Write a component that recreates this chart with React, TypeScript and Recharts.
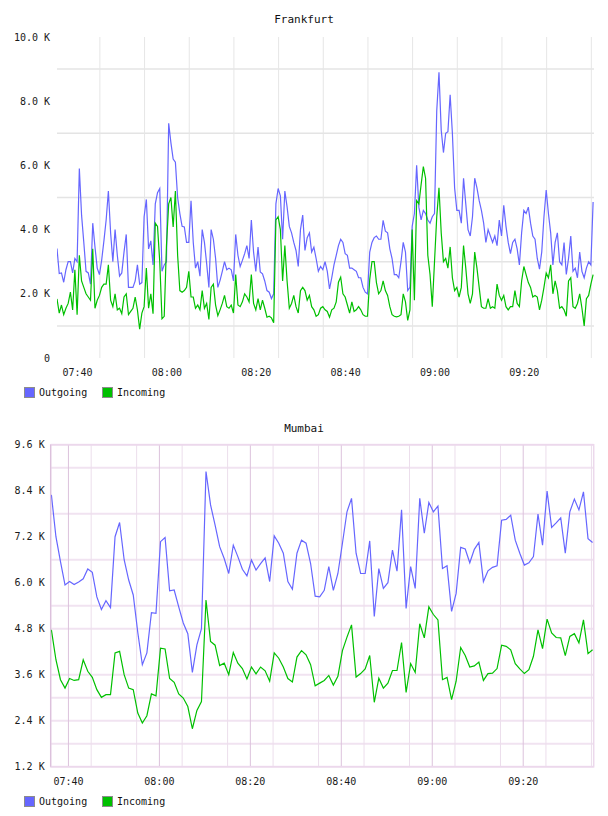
import React from 'react';
import { LineChart, Line, XAxis, YAxis, CartesianGrid, ReferenceArea } from 'recharts';

const MONO = '"DejaVu Sans Mono", monospace';
const OUT_COLOR = '#6666ff';
const IN_COLOR = '#00c000';

// Frankfurt: 30 s samples, minutes after 07:00, values in K
const FRA_START = 35.4;
const FRA_STEP = 0.5;
const fraOutgoing = [
  3.41, 2.63, 2.65, 2.36, 2.75, 3.0, 3.0, 2.65, 3.1, 3.0,
  5.9, 4.45, 3.6, 2.7, 2.65, 2.3, 4.2, 3.46, 2.8, 2.6,
  3.05, 3.65, 4.3, 5.2, 3.9, 3.0, 4.0, 3.2, 2.55, 2.65,
  3.3, 3.85, 2.2, 2.2, 2.2, 2.4, 2.9, 2.3, 2.35, 4.4,
  4.94, 3.4, 3.65, 2.9, 4.8, 5.15, 5.28, 2.7, 2.9, 3.0,
  7.31, 6.7, 6.2, 6.1, 5.0, 4.5, 4.1, 4.08, 3.6, 3.6,
  4.9, 3.6, 2.8, 3.0, 2.55, 4.0, 3.6, 2.94, 2.2, 4.0,
  3.7, 3.1, 2.2, 2.42, 2.7, 3.0, 2.75, 2.8, 2.75, 2.4,
  3.85, 3.2, 2.85, 3.04, 3.25, 3.5, 3.1, 4.3, 3.3, 2.7,
  3.46, 2.68, 2.62, 2.4, 2.1, 2.05, 1.85, 2.0, 4.8, 5.28,
  5.05, 3.7, 5.2, 4.71, 4.1, 3.9, 3.6, 3.35, 2.85, 4.0,
  4.45, 3.35, 3.75, 3.9, 3.3, 3.45, 3.1, 2.7, 2.85, 2.75,
  3.0, 2.7, 2.15, 2.5, 2.9, 3.2, 3.5, 3.7, 3.6, 3.25,
  3.2, 2.8, 2.8, 2.75, 2.7, 2.5, 2.5, 2.2, 2.05, 2.0,
  3.3, 3.6, 3.75, 3.8, 3.7, 3.7, 4.29, 3.95, 3.9, 3.4,
  3.1, 2.6, 2.6, 2.5, 3.0, 3.6, 3.3, 2.1, 2.2, 4.1,
  4.5, 6.0, 4.7, 4.3, 4.6, 4.5, 4.3, 4.2, 4.4, 4.5,
  7.7, 8.9, 7.1, 6.4, 7.0, 7.05, 8.2, 7.0, 5.3, 4.6,
  4.6, 4.2, 5.6, 4.8, 4.0, 3.8, 4.4, 5.6, 5.3, 4.9,
  4.6, 4.2, 3.6, 4.0, 3.8, 3.6, 3.8, 3.5, 4.3, 3.8,
  4.76, 4.1, 3.6, 3.25, 3.6, 3.7, 3.4, 2.9, 3.9, 4.6,
  4.5, 4.7, 4.2, 3.8, 3.7, 3.1, 2.77, 3.3, 4.4, 5.23,
  4.5, 3.9, 2.9, 3.6, 3.9, 3.0, 2.9, 3.6, 2.6, 3.1,
  3.8, 2.7, 2.8, 2.5, 3.3, 2.7, 2.5, 2.8, 3.0, 2.9,
  4.86,
];
const fraIncoming = [
  1.84, 1.4, 1.65, 1.35, 1.55, 1.7, 2.05, 1.5, 2.75, 1.35,
  3.2, 2.4, 2.2, 2.0, 1.9, 1.8, 3.4, 1.55, 1.8, 1.95,
  2.2, 2.3, 2.3, 2.9, 1.8, 1.6, 2.0, 1.5, 1.55, 1.38,
  1.9, 2.0, 1.35, 1.45, 1.55, 1.9, 1.5, 0.9, 1.4, 1.6,
  2.8, 1.55, 2.0, 1.38, 4.2, 4.1, 3.0, 1.22, 1.3, 3.5,
  4.8, 5.0, 4.08, 5.2, 3.2, 2.1, 2.05, 2.1, 2.2, 2.7,
  1.9, 1.9, 1.55, 1.65, 1.5, 2.1, 1.55, 1.7, 1.2, 2.2,
  2.3, 1.65, 1.32, 1.5, 1.7, 1.95, 1.6, 1.55, 1.65, 1.4,
  2.6, 1.65, 1.6, 1.75, 2.0, 1.9, 1.75, 2.6, 1.7, 1.5,
  1.85, 1.5, 1.8, 1.55, 1.27, 1.3, 1.25, 1.1, 4.3, 4.4,
  4.0, 2.4, 3.5, 2.4, 1.55, 1.7, 1.95, 1.6, 1.4, 2.1,
  2.2, 2.1, 1.8, 1.95, 1.6, 1.5, 1.3, 1.35, 1.55, 1.6,
  1.5, 1.45, 1.27, 1.5, 1.55, 1.75, 2.36, 2.52, 2.0, 1.9,
  1.65, 1.4, 1.75, 1.45, 1.5, 1.6, 1.5, 1.35, 1.3, 1.3,
  2.45, 3.0, 3.0, 2.35, 2.0, 2.1, 2.4, 2.1, 1.95, 1.6,
  1.35, 1.3, 1.28, 1.3, 1.35, 2.0, 1.75, 1.17, 1.5, 4.0,
  1.8, 4.9, 4.8, 5.4, 5.96, 5.6, 3.2, 2.6, 1.6, 3.0,
  4.4, 5.3, 3.9, 3.0, 3.1, 2.8, 3.46, 2.5, 2.1, 2.2,
  1.9, 2.2, 3.5, 2.8, 2.0, 1.7, 2.0, 3.3, 2.8, 2.2,
  1.6, 1.55, 1.55, 1.85, 1.55, 1.6, 1.55, 2.3, 1.95, 1.8,
  1.95, 1.6, 1.5, 1.6, 1.6, 2.1, 1.7, 1.6, 2.4, 2.85,
  2.6, 2.35, 2.2, 1.9, 1.95, 1.9, 1.5, 1.8, 2.2, 2.65,
  2.5, 2.9, 2.0, 2.4, 2.1, 1.55, 1.6, 1.5, 1.3, 2.4,
  2.5, 1.6, 1.55, 1.7, 2.0, 1.55, 1.0, 1.85, 1.95, 2.3,
  2.6,
];

// Mumbai: 1 min samples
const BOM_START = 36.25;
const BOM_STEP = 1;
const bomOutgoing = [
  8.29, 7.2, 6.55, 5.94, 6.03, 5.95, 6.02, 6.1, 6.36, 6.27,
  5.63, 5.3, 5.53, 5.35, 7.2, 7.57, 6.6, 6.07, 5.68, 4.7,
  3.86, 4.17, 5.22, 5.2, 7.07, 7.18, 5.79, 5.81, 5.37, 4.95,
  4.67, 3.66, 4.38, 4.8, 8.9, 8.03, 7.5, 6.94, 6.63, 6.24,
  6.98, 6.68, 6.35, 6.18, 6.59, 6.33, 6.5, 6.65, 6.03, 7.22,
  7.03, 6.77, 6.03, 5.83, 6.77, 7.11, 7.03, 6.5, 5.65, 5.63,
  5.8, 6.42, 5.8, 6.24, 7.03, 7.85, 8.2, 6.77, 6.24, 6.24,
  7.09, 5.12, 6.37, 5.85, 6.0, 6.85, 6.3, 7.9, 5.33, 6.42,
  5.85, 8.2, 7.29, 8.09, 7.85, 8.0, 6.37, 6.44, 5.25, 5.72,
  6.92, 6.88, 6.52, 6.87, 7.05, 6.03, 6.31, 6.4, 6.44, 7.63,
  7.65, 7.76, 7.11, 6.77, 6.46, 6.52, 6.68, 7.79, 6.98, 8.39,
  7.44, 7.56, 7.69, 6.77, 7.85, 8.18, 7.9, 8.37, 7.15, 7.05,
];
const bomIncoming = [
  4.77, 3.99, 3.47, 3.25, 3.5, 3.45, 3.47, 3.99, 3.69, 3.53,
  3.21, 3.01, 3.08, 3.08, 4.17, 4.21, 3.6, 3.25, 3.21, 2.6,
  2.34, 2.53, 3.1, 3.05, 4.29, 4.27, 3.5, 3.4, 3.1, 2.99,
  2.77, 2.19, 2.67, 2.9, 5.55, 4.47, 4.37, 3.84, 3.9, 3.6,
  4.18, 3.9, 3.76, 3.49, 3.8, 3.62, 3.8, 3.7, 3.43, 4.17,
  4.03, 3.8, 3.5, 3.41, 4.06, 4.23, 4.12, 3.86, 3.31, 3.38,
  3.45, 3.58, 3.33, 3.56, 4.23, 4.58, 4.9, 3.54, 3.63, 3.75,
  4.1, 2.88, 3.51, 3.25, 3.38, 3.71, 3.71, 4.44, 3.14, 3.89,
  3.66, 4.93, 4.56, 5.37, 5.17, 5.03, 3.47, 3.53, 2.95, 3.43,
  4.31, 4.1, 3.8, 3.83, 3.93, 3.45, 3.63, 3.64, 3.76, 4.37,
  4.34, 4.25, 3.89, 3.75, 3.63, 3.73, 4.08, 4.77, 4.28, 5.05,
  4.69, 4.57, 4.56, 4.1, 4.6, 4.67, 4.43, 5.03, 4.15, 4.25,
];

const timeTicks = [40, 60, 80, 100, 120, 140];
const timeGrid = [40, 45, 50, 55, 60, 65, 70, 75, 80, 85, 90, 95, 100, 105, 110, 115, 120, 125, 130, 135, 140, 145, 150, 155];
const fraYTicks = [0, 2, 4, 6, 8, 10];
const fraYGrid = [1, 3, 5, 7, 9];
const bomYTicks = [1.2, 2.4, 3.6, 4.8, 6.0, 7.2, 8.4, 9.6];
const bomYGrid = [1.2, 1.8, 2.4, 3.0, 3.6, 4.2, 4.8, 5.4, 6.0, 6.6, 7.2, 7.8, 8.4, 9.0, 9.6];

const FRA_X: [number, number] = [35.4, 155.6];
const BOM_X: [number, number] = [36.1, 155.5];

const buildRows = (start: number, step: number, out: number[], inc: number[]) =>
  out.map((v, i) => ({ t: start + i * step, out: v, inc: inc[i] }));

const fraData = buildRows(FRA_START, FRA_STEP, fraOutgoing, fraIncoming);
const bomData = buildRows(BOM_START, BOM_STEP, bomOutgoing, bomIncoming);

const fmtTime = (m: number) => {
  const h = 7 + Math.floor(m / 60);
  const mm = Math.round(m % 60);
  return `${String(h).padStart(2, '0')}:${String(mm).padStart(2, '0')}`;
};
const fmtK = (v: number) => (v === 0 ? '0' : `${v.toFixed(1)} K`);

const tickStyle = { fontSize: 10, fill: '#1a1a1a', fontFamily: MONO };

const Title = ({ text, top }: { text: string; top: number }) => (
  <div
    style={{
      position: 'absolute', left: 0, top, width: 608, height: 14, lineHeight: '14px',
      textAlign: 'center', fontFamily: MONO, fontSize: 11, color: '#111',
    }}
  >
    {text}
  </div>
);

const ChartLegend = ({ top }: { top: number }) => {
  const items = [
    { name: 'Outgoing', color: OUT_COLOR, x: 24 },
    { name: 'Incoming', color: IN_COLOR, x: 102 },
  ];
  return (
    <>
      {items.map(it => (
        <React.Fragment key={it.name}>
          <div
            style={{
              position: 'absolute', left: it.x, top, width: 11, height: 11, boxSizing: 'border-box',
              border: '1px solid #8c8c8c', background: it.color,
            }}
          />
          <div
            style={{
              position: 'absolute', left: it.x + 15, top: top - 1, height: 13, lineHeight: '13px',
              fontFamily: MONO, fontSize: 10, color: '#111', whiteSpace: 'nowrap',
            }}
          >
            {it.name}
          </div>
        </React.Fragment>
      ))}
    </>
  );
};

export default function App() {
  return (
    <div style={{ position: 'absolute', left: 0, top: 0, width: 608, height: 816, background: '#fff' }}>
      <Title text="Frankfurt" top={13} />
      <div style={{ position: 'absolute', left: 0, top: 0 }}>
        <LineChart width={608} height={400} data={fraData} margin={{ top: 37, right: 14, left: 0, bottom: 12 }}>
          <CartesianGrid vertical={false} horizontalValues={fraYGrid} stroke="#e4e4e4" strokeWidth={1.5} />
          <CartesianGrid horizontal={false} verticalValues={timeGrid} stroke="#e6e6e6" />
          <XAxis
            dataKey="t" type="number" domain={FRA_X} allowDataOverflow ticks={timeTicks}
            tickFormatter={fmtTime} axisLine={false} tickLine={false} tickMargin={5} height={30} tick={tickStyle}
          />
          <YAxis
            type="number" domain={[0, 10]} ticks={fraYTicks} tickFormatter={fmtK} width={57}
            axisLine={false} tickLine={false} tickMargin={1} tick={tickStyle}
          />
          <Line type="linear" dataKey="out" stroke={OUT_COLOR} strokeWidth={1.2} dot={false} isAnimationActive={false} />
          <Line type="linear" dataKey="inc" stroke={IN_COLOR} strokeWidth={1.2} dot={false} isAnimationActive={false} />
        </LineChart>
      </div>
      <ChartLegend top={387} />

      <Title text="Mumbai" top={422} />
      <div style={{ position: 'absolute', left: 0, top: 408 }}>
        <LineChart width={608} height={400} data={bomData} margin={{ top: 36.7, right: 14.3, left: 0, bottom: 11.3 }}>
          <CartesianGrid vertical={false} horizontalValues={bomYGrid} stroke="#f1e3f1" strokeWidth={2} />
          <CartesianGrid horizontal={false} verticalValues={timeGrid} stroke="#ecdeec" />
          <CartesianGrid horizontal={false} verticalValues={timeTicks} stroke="#dcc2dc" />
          <ReferenceArea x1={BOM_X[0]} x2={BOM_X[1]} y1={1.2} y2={9.6} fill="none" stroke="#ecd8ec" strokeWidth={1.5} />
          <XAxis
            dataKey="t" type="number" domain={BOM_X} allowDataOverflow ticks={timeTicks}
            tickFormatter={fmtTime} axisLine={false} tickLine={false} tickMargin={5} height={30} tick={tickStyle}
          />
          <YAxis
            type="number" domain={[1.2, 9.6]} ticks={bomYTicks} tickFormatter={fmtK} width={50.7}
            axisLine={{ stroke: '#d8bcd8' }} tickLine={false} tickMargin={0} tick={tickStyle}
          />
          <Line type="linear" dataKey="out" stroke={OUT_COLOR} strokeWidth={1.2} dot={false} isAnimationActive={false} />
          <Line type="linear" dataKey="inc" stroke={IN_COLOR} strokeWidth={1.2} dot={false} isAnimationActive={false} />
        </LineChart>
      </div>
      <ChartLegend top={796} />
    </div>
  );
}
